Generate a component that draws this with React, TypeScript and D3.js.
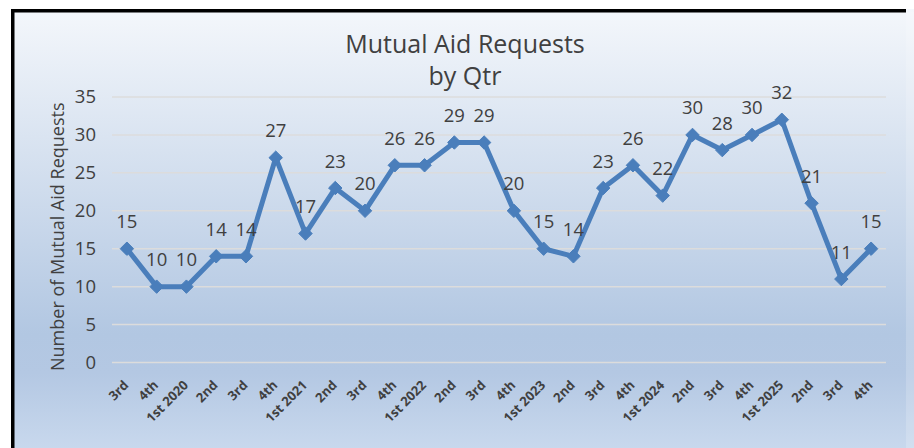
import React from "react";
import * as d3 from "d3";

// Quarter labels and request counts
const quarters: string[] = [
  "3rd", "4th", "1st 2020", "2nd", "3rd", "4th", "1st 2021", "2nd", "3rd", "4th",
  "1st 2022", "2nd", "3rd", "4th", "1st 2023", "2nd", "3rd", "4th", "1st 2024",
  "2nd", "3rd", "4th", "1st 2025", "2nd", "3rd", "4th",
];
const requests: number[] = [
  15, 10, 10, 14, 14, 27, 17, 23, 20, 26, 26, 29, 29, 20, 15, 14, 23, 26, 22, 30,
  28, 30, 32, 21, 11, 15,
];
const yTicks: number[] = [0, 5, 10, 15, 20, 25, 30, 35];

const W = 914;
const H = 448;
const FONT = "'Open Sans', 'Noto Sans', sans-serif";
const TEXT = "#404040";
const BLUE = "#4a7ebb";

export default function App() {
  const x = d3
    .scaleBand<number>()
    .domain(requests.map((_, i) => i))
    .range([112, 886]);
  const y = d3.scaleLinear().domain([0, 35]).range([362.5, 97]);
  const cx = (i: number) => (x(i) as number) + x.bandwidth() / 2;

  const line = d3
    .line<number>()
    .x((_, i) => cx(i))
    .y((d) => y(d));

  const diamond = d3.symbol().type(d3.symbolDiamond2).size(115)();

  return (
    <svg
      width={W}
      height={H}
      style={{ position: "absolute", left: 0, top: 0, display: "block" }}
      fontFamily={FONT}
    >
      <defs>
        <linearGradient id="bg" x1="0" y1="0" x2="0" y2="1">
          <stop offset="0" stopColor="#f4f7fb" />
          <stop offset="0.74" stopColor="#b2c7e2" />
          <stop offset="0.83" stopColor="#b4c8e3" />
          <stop offset="1" stopColor="#c8d8ed" />
        </linearGradient>
      </defs>
      <rect x={0} y={0} width={W} height={H} fill="#ffffff" />
      <rect x={11} y={9} width={W - 11} height={H - 9} fill="url(#bg)" />
      <rect x={906} y={12} width={8} height={H - 12} fill="#ffffff" opacity={0.18} />
      {/* frame */}
      <rect x={11} y={9} width={895} height={3.5} fill="#000" />
      <rect x={11} y={9} width={3.5} height={H - 9} fill="#000" />

      {/* title */}
      <text x={465} y={53} textAnchor="middle" fontSize={25} fill={TEXT}>
        Mutual Aid Requests
      </text>
      <text x={465} y={85} textAnchor="middle" fontSize={25} fill={TEXT}>
        by Qtr
      </text>

      {/* grid + y ticks */}
      {yTicks.map((t) => (
        <g key={t}>
          <line
            x1={112}
            x2={886}
            y1={y(t)}
            y2={y(t)}
            stroke="#dcdcdc"
            strokeWidth={1.5}
          />
          <text
            x={96}
            y={y(t)}
            dy="0.35em"
            textAnchor="end"
            fontSize={18.5}
            fill={TEXT}
          >
            {t}
          </text>
        </g>
      ))}

      {/* y axis title */}
      <text
        transform={`translate(63.5,${(97 + 362.5) / 2 + 7}) rotate(-90)`}
        textAnchor="middle"
        fontSize={18}
        fill={TEXT}
      >
        Number of Mutual Aid Requests
      </text>

      {/* x labels */}
      {quarters.map((q, i) => (
        <text
          key={i}
          transform={`translate(${cx(i) + 2.5},${386}) rotate(-45)`}
          textAnchor="end"
          fontSize={13}
          fontWeight={700}
          fill={TEXT}
        >
          {q}
        </text>
      ))}

      {/* series */}
      <path
        d={line(requests) || ""}
        fill="none"
        stroke={BLUE}
        strokeWidth={5}
        strokeLinejoin="round"
        strokeLinecap="round"
      />
      {requests.map((v, i) => (
        <path
          key={i}
          d={diamond || ""}
          transform={`translate(${cx(i)},${y(v)})`}
          fill={BLUE}
          stroke={BLUE}
          strokeWidth={1}
        />
      ))}
      {requests.map((v, i) => (
        <text
          key={i}
          x={cx(i)}
          y={y(v) - 20.5}
          textAnchor="middle"
          fontSize={18.5}
          fill={TEXT}
        >
          {v}
        </text>
      ))}
    </svg>
  );
}
